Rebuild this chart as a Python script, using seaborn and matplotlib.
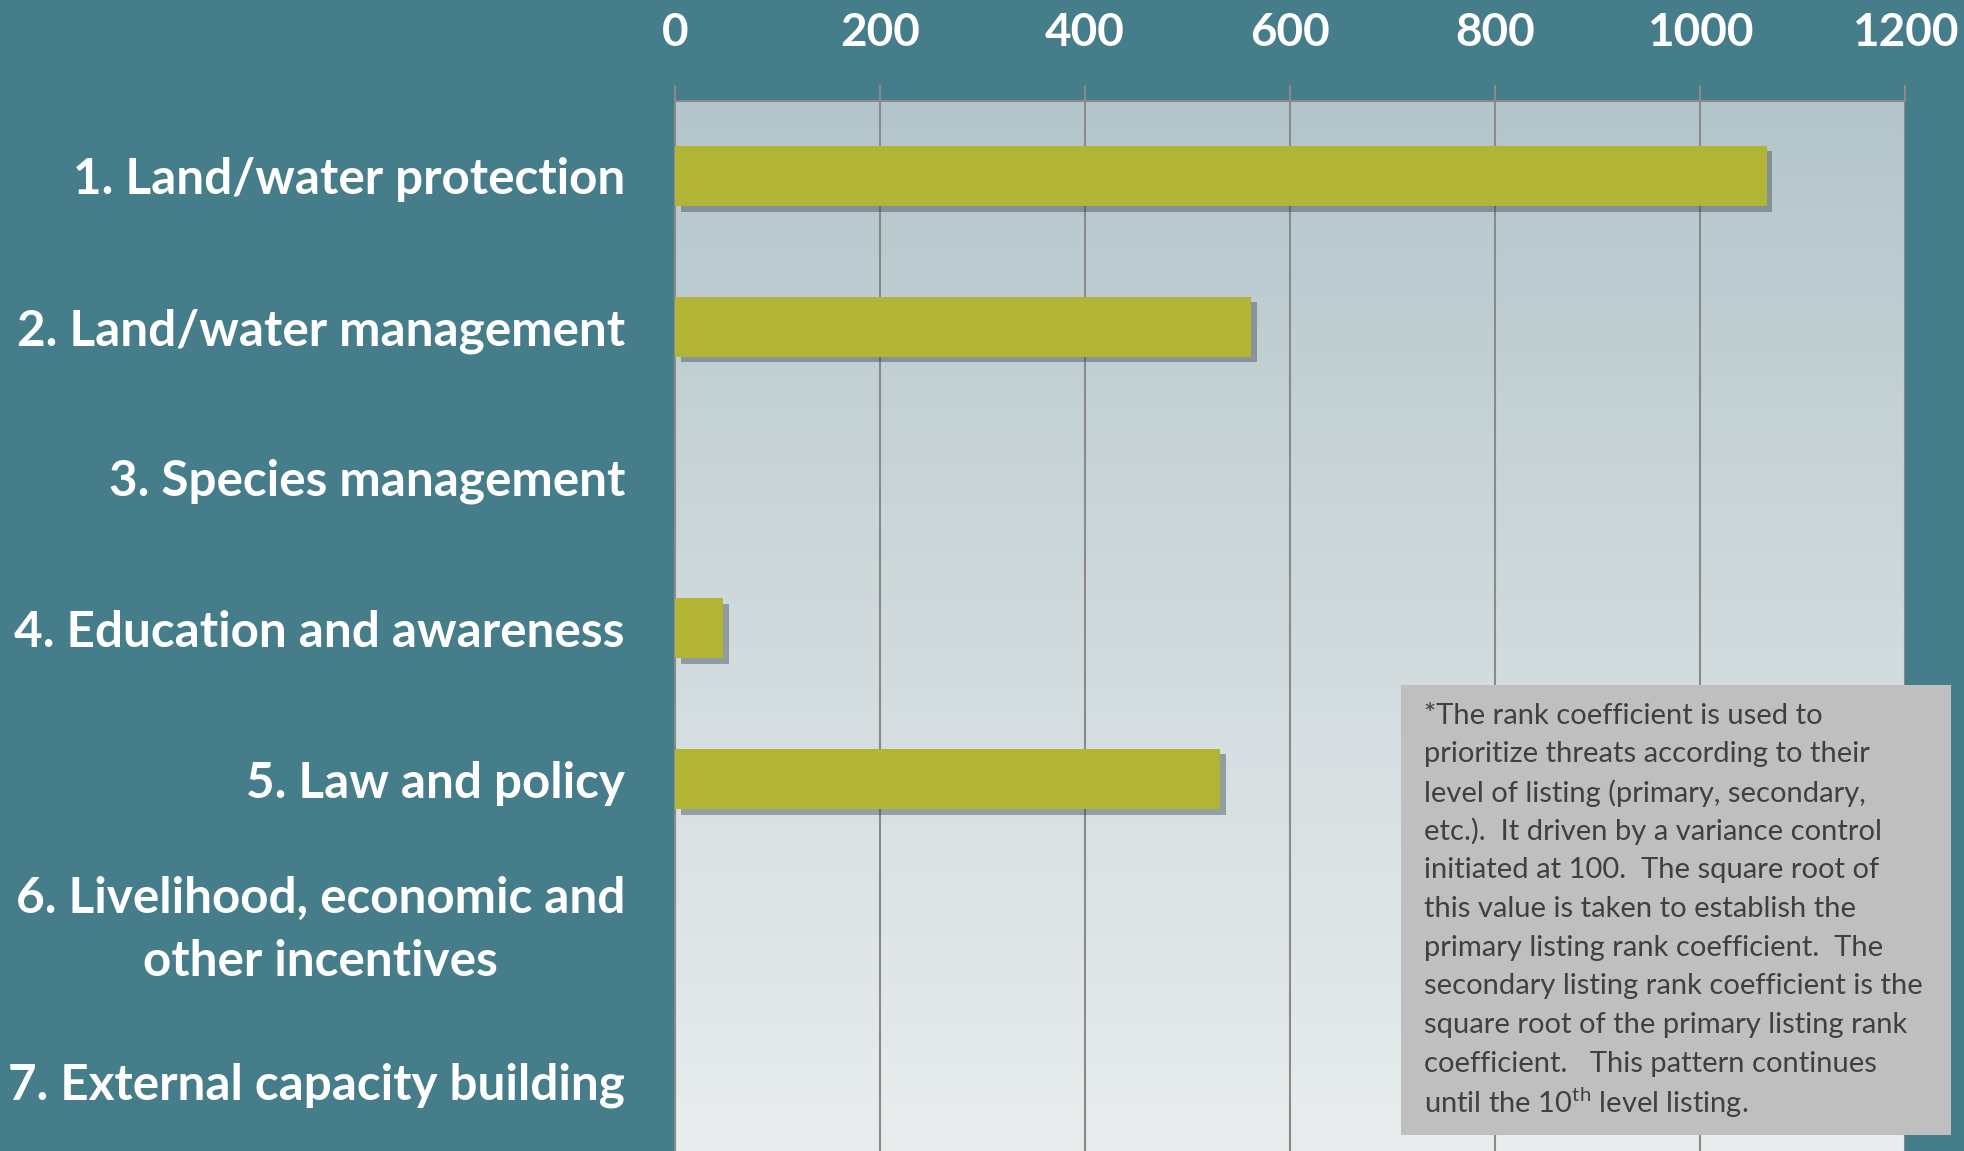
import numpy as np
import matplotlib
matplotlib.use("Agg")
import matplotlib.pyplot as plt
import matplotlib.patheffects as pe
from matplotlib.patches import Rectangle
from matplotlib.colors import LinearSegmentedColormap
import seaborn as sns

# data
categories = [
    "1. Land/water protection",
    "2. Land/water management",
    "3. Species management",
    "4. Education and awareness",
    "5. Law and policy",
    "6. Livelihood, economic and\nother incentives",
    "7. External capacity building",
]
values = [1065, 562, 0, 47, 532, 0, 0]
x_ticks = [0, 200, 400, 600, 800, 1000, 1200]

note_lines = [
    "*The rank coefficient is used to",
    "prioritize threats according to their",
    "level of listing (primary, secondary,",
    "etc.).  It driven by a variance control",
    "initiated at 100.  The square root of",
    "this value is taken to establish the",
    "primary listing rank coefficient.  The",
    "secondary listing rank coefficient is the",
    "square root of the primary listing rank",
    "coefficient.   This pattern continues",
    r"until the 10$^{\mathrm{th}}$ level listing.",
]

teal = "#457e8a"
bar_color = "#b2b436"
grid_color = "#8a8a8a"

sns.set_style("white")
plt.rcParams["font.family"] = ["Lato", "DejaVu Sans"]
plt.rcParams["mathtext.fontset"] = "custom"
plt.rcParams["mathtext.rm"] = "Lato"

W, H = 1965, 1151
fig = plt.figure(figsize=(W / 100, H / 100), dpi=100, facecolor=teal)

# axes placed in pixel terms
left, right, top, bottom = 675, 1905, 100.5, 1156
ax = fig.add_axes([left / W, 1 - bottom / H, (right - left) / W, (bottom - top) / H])

# gradient plot background
grad = LinearSegmentedColormap.from_list("bg", ["#b3c5ca", "#d0dadd", "#e9edee"])
ax.imshow(np.linspace(0, 1, 256).reshape(-1, 1), cmap=grad, aspect="auto",
          extent=[0, 1, 0, 1], transform=ax.transAxes, zorder=0)

sns.barplot(x=values, y=categories, orient="h", color=bar_color, saturation=1,
            width=0.4, ax=ax, zorder=3)
for p in ax.patches:
    p.set_linewidth(0)
    p.set_path_effects([pe.SimplePatchShadow(offset=(4, -4), shadow_rgbFace="#2f3f44", alpha=0.4),
                        pe.Normal()])

ax.set_xlim(0, 1200)
ax.set_ylim(6.5, -0.5)
ax.set_xticks(x_ticks)
ax.xaxis.tick_top()
ax.tick_params(axis="x", which="major", direction="out", length=11.5, width=1.5,
               color=grid_color, pad=22, labelsize=33, labelcolor="white")
for t in ax.get_xticklabels():
    t.set_fontweight("bold")

ax.set_yticks(np.arange(-0.5, 7, 1), minor=True)
ax.tick_params(axis="y", which="major", length=0, pad=36, labelsize=35.6, labelcolor="white")
ax.tick_params(axis="y", which="minor", direction="out", length=12, width=1.5, color=grid_color)
for t in ax.get_yticklabels():
    t.set_fontweight("bold")
    t.set_multialignment("center")
    if "\n" in t.get_text():
        t.set_linespacing(1.5)
        t.set_verticalalignment("center")

ax.grid(axis="x", color=grid_color, linewidth=1.5, zorder=1)
ax.set_axisbelow(True)
for s in ["top", "left"]:
    ax.spines[s].set_color(grid_color)
    ax.spines[s].set_linewidth(1.5)
for s in ["right", "bottom"]:
    ax.spines[s].set_visible(False)
ax.set_xlabel("")
ax.set_ylabel("")

# note box
bx0, bx1, by0, by1 = 1401, 1951, 685, 1135
fig.patches.append(Rectangle((bx0 / W, 1 - by1 / H), (bx1 - bx0) / W, (by1 - by0) / H,
                             transform=fig.transFigure, facecolor="#bfbfbf",
                             edgecolor="none", zorder=5))
for i, line in enumerate(note_lines):
    y = 715.5 + i * 38.7
    fig.text(1424 / W, 1 - y / H, line, ha="left", va="center", fontsize=21,
             color="#404040", zorder=6)

fig.savefig("out.png", dpi=100, facecolor=teal)
